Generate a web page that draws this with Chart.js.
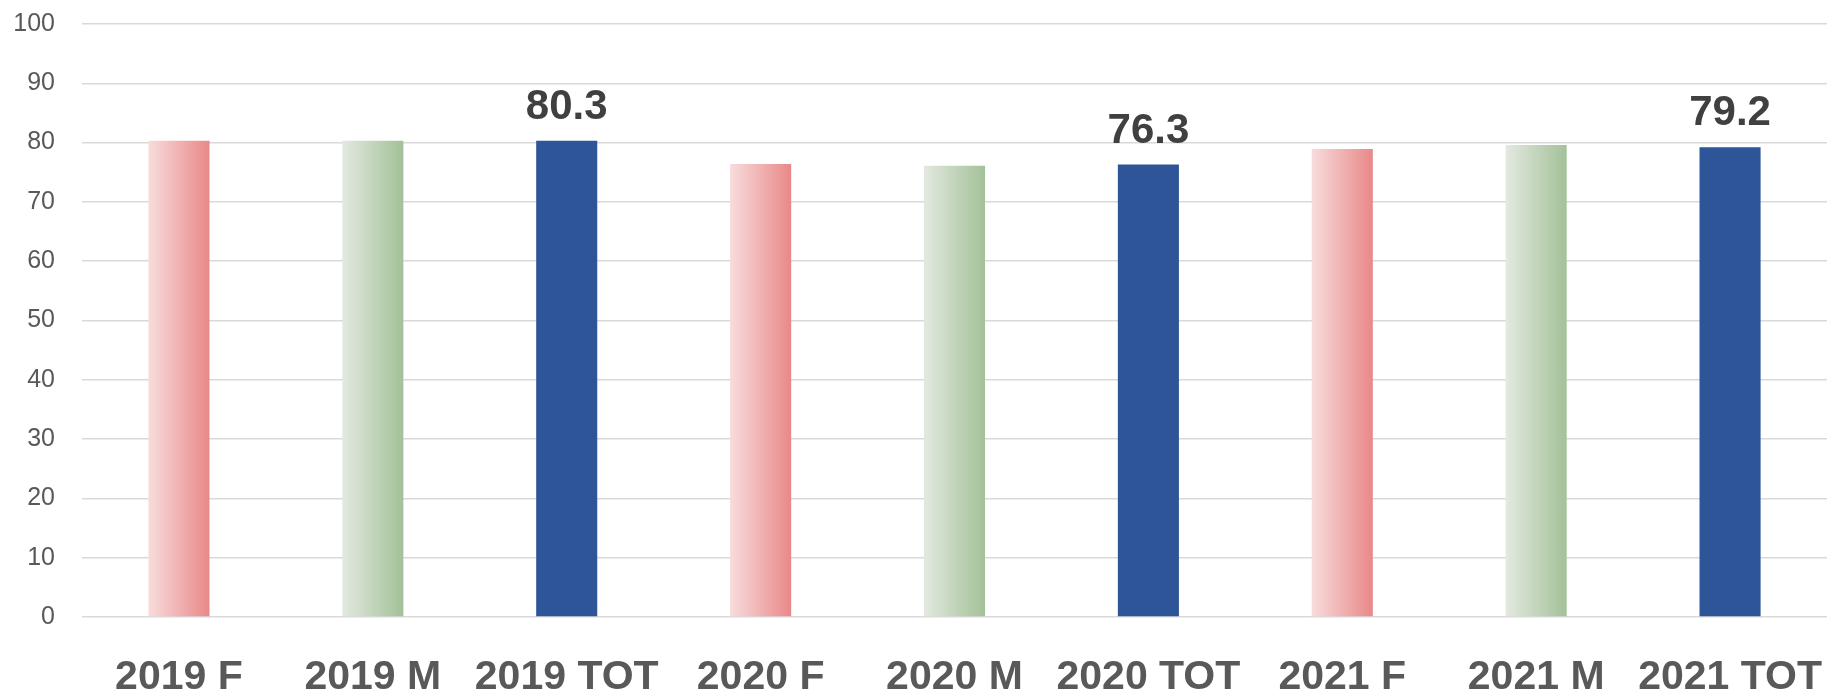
<!DOCTYPE html>
<html>
<head>
<meta charset="utf-8">
<script src="https://cdn.jsdelivr.net/npm/chart.js@4/dist/chart.umd.min.js"></script>
<style>
html,body{margin:0;padding:0;background:#fff;}
#wrap{width:1827px;height:695px;}
</style>
</head>
<body>
<div id="wrap"><canvas id="c" width="1827" height="695"></canvas></div>
<script>
const categories = ["2019 F","2019 M","2019 TOT","2020 F","2020 M","2020 TOT","2021 F","2021 M","2021 TOT"];
const values = [80.3, 80.3, 80.3, 76.4, 76.1, 76.3, 78.9, 79.6, 79.2];
const groups = ["F","M","TOT","F","M","TOT","F","M","TOT"];
const showLabel = [false,false,true,false,false,true,false,false,true];
const yTicks = [0,10,20,30,40,50,60,70,80,90,100];

const BAR_PCT = 0.315;
function barFill(ctx){
  const chart = ctx.chart;
  const i = ctx.dataIndex;
  const g = groups[i];
  if (g === "TOT") return "#2e5597";
  const xs = chart.scales && chart.scales.x;
  if (!xs || !chart.chartArea) return g === "F" ? "#eea5a5" : "#c5d5bd";
  const cx = xs.getPixelForValue(i);
  const half = (xs.width / categories.length) * BAR_PCT / 2;
  const grad = chart.ctx.createLinearGradient(cx - half, 0, cx + half, 0);
  if (g === "F") {
    grad.addColorStop(0, "#f8dcdc");
    grad.addColorStop(1, "#e98888");
  } else {
    grad.addColorStop(0, "#e3e9e0");
    grad.addColorStop(1, "#a3c198");
  }
  return grad;
}

const labelPlugin = {
  id: "totLabels",
  afterDatasetsDraw(chart){
    const ctx = chart.ctx;
    const meta = chart.getDatasetMeta(0);
    ctx.save();
    ctx.font = "bold 42px 'Liberation Sans', Arial, sans-serif";
    ctx.fillStyle = "#404040";
    ctx.textAlign = "center";
    ctx.textBaseline = "alphabetic";
    meta.data.forEach((el, i) => {
      if (!showLabel[i]) return;
      ctx.fillText(values[i].toFixed(1), el.x, el.y - 22);
    });
    ctx.restore();
  }
};

new Chart(document.getElementById("c"), {
  type: "bar",
  data: {
    labels: categories,
    datasets: [{
      data: values,
      backgroundColor: barFill,
      borderWidth: 0,
      categoryPercentage: 1,
      barPercentage: BAR_PCT
    }]
  },
  options: {
    responsive: false,
    animation: false,
    layout: { padding: { top: 24, right: 0, left: 0, bottom: 0 } },
    plugins: { legend: { display: false }, tooltip: { enabled: false } },
    scales: {
      x: {
        grid: { display: false, drawTicks: false },
        border: { display: false },
        ticks: {
          color: "#595959",
          font: { family: "'Liberation Sans', Arial, sans-serif", size: 41, weight: "bold" },
          padding: 36,
          maxRotation: 0,
          autoSkip: false
        },
        afterFit(scale){ scale.height = 78; scale.paddingLeft = 0; scale.paddingRight = 0; }
      },
      y: {
        min: 0, max: 100,
        afterBuildTicks(scale){ scale.ticks = yTicks.map(v => ({ value: v })); },
        grid: { color: "#d9d9d9", lineWidth: 1.5, drawTicks: false },
        border: { display: false },
        ticks: {
          color: "#595959",
          font: { family: "'Liberation Sans', Arial, sans-serif", size: 25 },
          padding: 27
        },
        afterFit(scale){ scale.width = 82; scale.paddingTop = 0; scale.paddingBottom = 0; }
      }
    }
  },
  plugins: [labelPlugin]
});
</script>
</body>
</html>
